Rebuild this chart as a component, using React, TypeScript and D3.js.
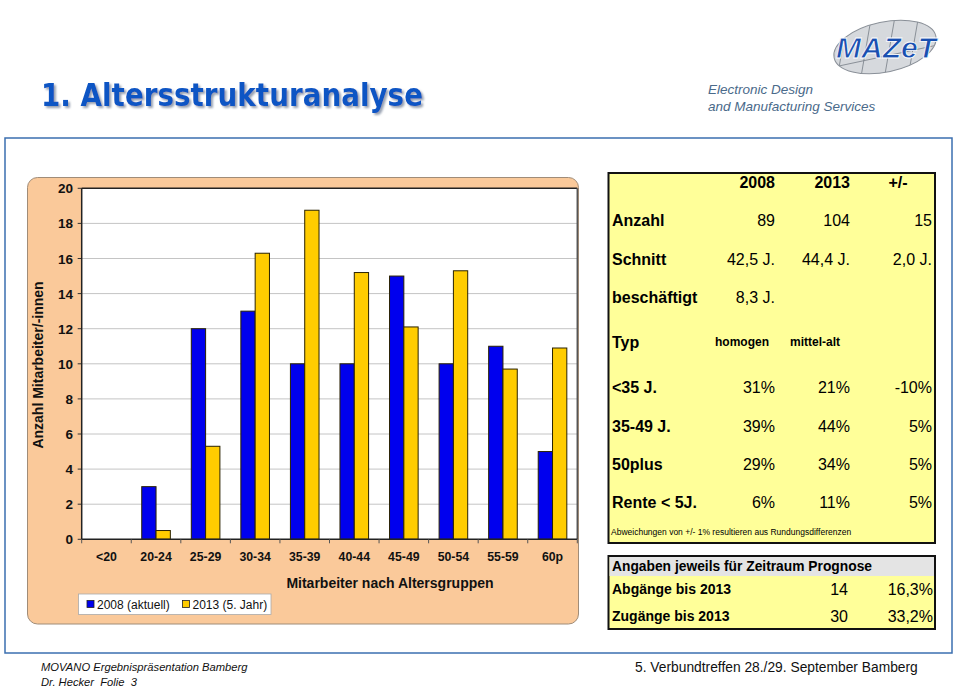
import * as d3 from "d3";

const categories = ["<20", "20-24", "25-29", "30-34", "35-39", "40-44", "45-49", "50-54", "55-59", "60p"];
const series = ["2008 (aktuell)", "2013 (5. Jahr)"];
const values2008 = [0, 3, 12, 13, 10, 10, 15, 10, 11, 5];
const values2013 = [0, 0.5, 5.3, 16.3, 18.75, 15.2, 12.1, 15.3, 9.7, 10.9];
const yTicks = [0, 2, 4, 6, 8, 10, 12, 14, 16, 18, 20];
const colors = ["#0000ee", "#ffcc00"];

const tableHead = ["2008", "2013", "+/-"];
const rowLabels = ["Anzahl", "Schnitt", "beschäftigt", "Typ", "<35 J.", "35-49 J.", "50plus", "Rente < 5J."];
const col2008 = ["89", "42,5 J.", "8,3 J.", "homogen", "31%", "39%", "29%", "6%"];
const col2013 = ["104", "44,4 J.", "", "mittel-alt", "21%", "44%", "34%", "11%"];
const colDiff = ["15", "2,0 J.", "", "", "-10%", "5%", "5%", "5%"];
const rowY = [220, 259, 297, 342, 387, 426, 464, 502];

const progLabels = ["Abgänge bis 2013", "Zugänge bis 2013"];
const progCount = ["14", "30"];
const progPct = ["16,3%", "33,2%"];

const font = "'Liberation Sans', Arial, sans-serif";

export default function App() {
  const width = 960;
  const height = 688;
  const plot = { left: 81.7, right: 577.3, top: 188.3, bottom: 539.3 };

  const x = d3.scaleBand(categories, [plot.left, plot.right]);
  const y = d3.scaleLinear([0, 20], [plot.bottom, plot.top]);
  const barW = 14.3;
  const xs = d3.scaleBand(series, [-barW, barW]).padding(0);
  const data = [values2008, values2013];

  return (
    <svg width={width} height={height} style={{ position: "absolute", left: 0, top: 0, background: "#fff" }} fontFamily={font}>
      <defs>
        <filter id="shadow" x="-5%" y="-20%" width="110%" height="150%">
          <feDropShadow dx={2} dy={2} stdDeviation={0.8} floodColor="#8b96a8" floodOpacity={0.9} />
        </filter>
        <clipPath id="ell"><ellipse cx={0} cy={0} rx={52} ry={25} /></clipPath>
      </defs>

      {/* title */}
      <text x={41} y={106} fontSize={32} fontWeight="bold" fontFamily="'Liberation Sans Narrow', 'DejaVu Sans Condensed', 'Liberation Sans', sans-serif" fill="#0a55c4" textLength={382} lengthAdjust="spacingAndGlyphs" filter="url(#shadow)">1. Altersstrukturanalyse</text>

      {/* logo */}
      <g transform="translate(885,47) rotate(-12)">
        <ellipse cx={0} cy={0} rx={52} ry={25} fill="#d6d9dd" />
        <g clipPath="url(#ell)" stroke="#7d848c" strokeWidth={0.8}>
          {[-45, -20, 5, 30, 55].map((d) => (
            <line key={d} x1={d + 12} y1={-30} x2={d - 12} y2={30} />
          ))}
          <line x1={-60} y1={9} x2={60} y2={9} />
        </g>
        <ellipse cx={0} cy={0} rx={52} ry={25} fill="none" stroke="#8a9098" strokeWidth={1} />
      </g>
      <text x={886} y={58} fontSize={29} fontWeight="bold" fontStyle="italic" fill="#1a4fb0" stroke="#fff" strokeWidth={0.8} textAnchor="middle" textLength={100} lengthAdjust="spacingAndGlyphs">MAZeT</text>
      <text x={708} y={94} fontSize={13.5} fontStyle="italic" fill="#4a6a8a">Electronic Design</text>
      <text x={708} y={111} fontSize={13.5} fontStyle="italic" fill="#4a6a8a">and Manufacturing Services</text>

      {/* frame */}
      <rect x={5} y={138} width={947} height={515} fill="none" stroke="#3b6fb0" strokeWidth={1.5} />

      {/* chart area */}
      <rect x={27.5} y={177.5} width={551} height={446.5} rx={10} fill="#fac99a" stroke="#a08c78" strokeWidth={1} />
      <rect x={plot.left} y={plot.top} width={plot.right - plot.left} height={plot.bottom - plot.top} fill="#fff" />
      {yTicks.map((t) => (
        <g key={t}>
          {t > 0 && t < 20 && <line x1={plot.left} x2={plot.right} y1={y(t)} y2={y(t)} stroke="#c4c4c4" strokeWidth={1} />}
          <line x1={plot.left - 4} x2={plot.left} y1={y(t)} y2={y(t)} stroke="#333" />
          <text x={73} y={y(t) + 5} fontSize={13.5} fontWeight="bold" textAnchor="end" fill="#111">{t}</text>
        </g>
      ))}
      <line x1={plot.left} x2={plot.right} y1={plot.top} y2={plot.top} stroke="#222" strokeWidth={1.5} />
      <line x1={plot.right} x2={plot.right} y1={plot.top} y2={plot.bottom} stroke="#555" strokeWidth={1.5} />
      {data.map((vals, si) =>
        vals.map((v, i) =>
          v > 0 ? (
            <rect
              key={`${si}-${i}`}
              x={x(categories[i])! + x.bandwidth() / 2 + xs(series[si])!}
              y={y(v)}
              width={xs.bandwidth()}
              height={y(0) - y(v)}
              fill={colors[si]}
              stroke="#2a2200"
              strokeWidth={1}
            />
          ) : null
        )
      )}
      <line x1={plot.left} x2={plot.left} y1={plot.top} y2={plot.bottom} stroke="#222" strokeWidth={1.5} />
      <line x1={plot.left} x2={plot.right} y1={plot.bottom} y2={plot.bottom} stroke="#222" strokeWidth={1.5} />
      {categories.map((c, i) => (
        <g key={c}>
          <line x1={x(c)!} x2={x(c)!} y1={plot.bottom} y2={plot.bottom + 4} stroke="#555" />
          {i === categories.length - 1 && <line x1={plot.right} x2={plot.right} y1={plot.bottom} y2={plot.bottom + 4} stroke="#555" />}
          <text x={x(c)! + x.bandwidth() / 2} y={560.5} fontSize={12.3} fontWeight="bold" textAnchor="middle" fill="#111">{c}</text>
        </g>
      ))}
      <text x={390} y={588} fontSize={14} fontWeight="bold" textAnchor="middle" fill="#111">Mitarbeiter nach Altersgruppen</text>
      <text transform="translate(43,365) rotate(-90)" fontSize={14} fontWeight="bold" textAnchor="middle" fill="#111">Anzahl Mitarbeiter/-innen</text>

      {/* legend */}
      <rect x={78.5} y={594} width={192.5} height={20.5} fill="#fff" stroke="#aaa" strokeWidth={0.8} />
      {series.map((s, i) => (
        <g key={s} transform={`translate(${87 + i * 95.5},599)`}>
          <rect x={0} y={1.5} width={7} height={7} fill={colors[i]} stroke="#222" strokeWidth={0.8} />
          <text x={10} y={10} fontSize={12} fill="#111">{s}</text>
        </g>
      ))}

      {/* summary table */}
      <rect x={608.5} y={173} width={326.5} height={370} fill="#ffff99" stroke="#111" strokeWidth={2} />
      <text x={775} y={188} fontSize={16} fontWeight="bold" textAnchor="end">{tableHead[0]}</text>
      <text x={850} y={188} fontSize={16} fontWeight="bold" textAnchor="end">{tableHead[1]}</text>
      <text x={898} y={188} fontSize={16} fontWeight="bold" textAnchor="middle">{tableHead[2]}</text>
      {rowLabels.map((l, i) => (
        <g key={l}>
          <text x={612} y={rowY[i] + 6} fontSize={16} fontWeight="bold">{l}</text>
          {l === "Typ" ? (
            <>
              <text x={742} y={rowY[i] + 4} fontSize={12} fontWeight="bold" textAnchor="middle">{col2008[i]}</text>
              <text x={790} y={rowY[i] + 4} fontSize={12} fontWeight="bold">{col2013[i]}</text>
            </>
          ) : (
            <>
              <text x={775} y={rowY[i] + 6} fontSize={16} textAnchor="end">{col2008[i]}</text>
              <text x={850} y={rowY[i] + 6} fontSize={16} textAnchor="end">{col2013[i]}</text>
              <text x={932} y={rowY[i] + 6} fontSize={16} textAnchor="end">{colDiff[i]}</text>
            </>
          )}
        </g>
      ))}
      <text x={611} y={535} fontSize={8.5}>Abweichungen von +/- 1% resultieren aus Rundungsdifferenzen</text>

      {/* forecast table */}
      <rect x={608.5} y={556} width={326.5} height={73} fill="#ffff99" stroke="#111" strokeWidth={2} />
      <rect x={609.5} y={557} width={324.5} height={19} fill="#e4e4e4" />
      <text x={612} y={571} fontSize={15} fontWeight="bold" textLength={260} lengthAdjust="spacingAndGlyphs">Angaben jeweils für Zeitraum Prognose</text>
      {progLabels.map((l, i) => (
        <g key={l}>
          <text x={612} y={594 + i * 26.5} fontSize={14} fontWeight="bold">{l}</text>
          <text x={848} y={595 + i * 26.5} fontSize={16} textAnchor="end">{progCount[i]}</text>
          <text x={933} y={595 + i * 26.5} fontSize={16} textAnchor="end">{progPct[i]}</text>
        </g>
      ))}

      {/* footer */}
      <text x={41} y={671} fontSize={11.2} fontStyle="italic" fill="#111">MOVANO Ergebnispräsentation Bamberg</text>
      <text x={41} y={686} fontSize={11.2} fontStyle="italic" fill="#111" xmlSpace="preserve">Dr. Hecker  Folie  3</text>
      <text x={635} y={672} fontSize={13.8} fill="#111">5. Verbundtreffen 28./29. September Bamberg</text>
    </svg>
  );
}
